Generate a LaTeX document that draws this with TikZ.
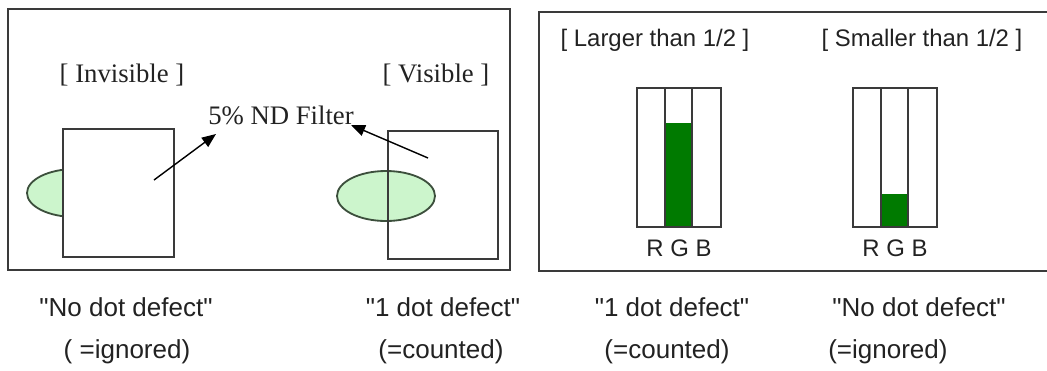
\documentclass[tikz,border=0pt]{standalone}
\usepackage{fontspec}
\setmainfont{Liberation Serif}
\setsansfont{Liberation Sans}
\usepackage{tikz}
\usetikzlibrary{arrows.meta, positioning}
\usepackage{xcolor}
\definecolor{dotInk}{HTML}{222222}
\definecolor{dotFrame}{HTML}{3A3A3A}
\definecolor{dotLeaf}{HTML}{CCF5CC}
\definecolor{dotLeafEdge}{HTML}{3C4F3C}
\definecolor{dotGreen}{HTML}{007A00}

\newcommand{\qq}[1]{\textquotedbl#1\textquotedbl}

\begin{document}
\begin{tikzpicture}[
  x=0.025cm, y=-0.025cm,
  frame/.style={draw=dotFrame, line width=1.4pt},
  pane/.style={draw=dotFrame, line width=1.3pt},
  spot/.style={fill=dotLeaf, draw=dotLeafEdge, line width=1.3pt},
  pointer/.style={draw=black, line width=1.0pt, -{Triangle[length=10pt, width=8pt]}},
  serif/.style={font=\rmfamily\fontsize{19}{22}\selectfont, text=dotInk, inner sep=0pt},
  sans/.style={font=\sffamily\fontsize{18.5}{22}\selectfont, text=dotInk, inner sep=0pt},
  head/.style={font=\sffamily\fontsize{17}{20}\selectfont, text=dotInk, inner sep=0pt},
]
\useasboundingbox (0,0) rectangle (1047,370);

% ====================== left: seen through the ND filter =====================
\draw[frame] (8,9) rectangle (510,270);

\node[serif] (invis) at (122,75) {[ Invisible ]};
\node[serif] (vis)   at (436,75) {[ Visible ]};
\node[serif] (filter) at (281,115) {5\% ND Filter};

% The left spot hides behind its pane, the right one shows through.
\draw[spot] (75,193) ellipse (48 and 24);
\draw[pane, fill=white] (63,129) rectangle (174,257);
\draw[spot] (386,196) ellipse (49 and 25);
\draw[pane] (388,131) rectangle (498,259);

\coordinate (invTail) at (154,180);
\coordinate (invTip)  at (216,134);
\coordinate (visTail) at (428,158);
\coordinate (visTip)  at (351,125);
\draw[pointer] (invTail) -- (invTip);
\draw[pointer] (visTail) -- (visTip);

% ====================== right: size of the lit sub-pixel =====================
\draw[frame] (1050,12) -- (539,12) -- (539,271) -- (1050,271);

\node[head] (large) at (655,40) {[ Larger than 1/2 ]};
\node[head] (small) at (922,40) {[ Smaller than 1/2 ]};

% x of the bar's left edge / top of the green fill
\foreach \bx/\gtop/\nm in {637/123/one, 853/194/two} {
  \fill[dotGreen] (\bx+28,\gtop) rectangle (\bx+55,227);
  \draw[pane] (\bx,88) rectangle (\bx+84,227);
  \draw[pane] (\bx+28,88) -- (\bx+28,227);
  \draw[pane] (\bx+55,88) -- (\bx+55,227);
  \node[head] (rgb\nm) at (\bx+42,248) {R G B};
}

% ================================ verdicts ===================================
\node[sans] (noA)  at (126,307) {\qq{No dot defect}};
\node[sans] (igA)  at (127,352) {( =ignored)};
\node[sans] (oneA) at (443,307) {\qq{1 dot defect}};
\node[sans] (coA)  at (441,352) {(=counted)};
\node[sans] (oneB) at (672,307) {\qq{1 dot defect}};
\node[sans] (coB)  at (667,352) {(=counted)};
\node[sans] (noB)  at (919,307) {\qq{No dot defect}};
\node[sans, anchor=west] (igB) at (828,352) {(=ignored)};
\end{tikzpicture}
\end{document}
